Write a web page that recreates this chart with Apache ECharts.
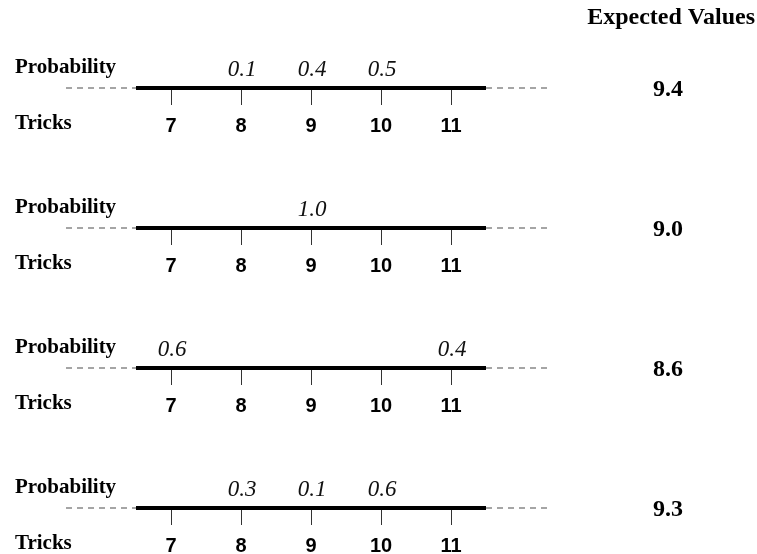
<!DOCTYPE html>
<html>
<head>
<meta charset="utf-8">
<script src="https://cdn.jsdelivr.net/npm/echarts@6/dist/echarts.min.js"></script>
<style>
html,body{margin:0;padding:0;background:#fff;}
#main{width:757px;height:554px;}
</style>
</head>
<body>
<div id="main"></div>
<script>
// data
var tricks = [7, 8, 9, 10, 11];
var probRow1 = [0, 0.1, 0.4, 0.5, 0];
var probRow2 = [0, 0, 1.0, 0, 0];
var probRow3 = [0.6, 0, 0, 0, 0.4];
var probRow4 = [0, 0.3, 0.1, 0.6, 0];
var expectedValues = [9.4, 9.0, 8.6, 9.3];

var probRows = [probRow1, probRow2, probRow3, probRow4];
var lineTop = [88, 228, 368, 508];   // pixel y of each number line
var serif = '"Liberation Serif", "DejaVu Serif", serif';
var sans = '"Liberation Sans", Arial, sans-serif';

var grids = [], xAxes = [], yAxes = [], series = [], texts = [];

function $each(arr, fn){ for (var i = 0; i < arr.length; i++) fn(i, arr[i]); }

$each(probRows, function(i, row){
	grids.push({left: 31, right: 26, top: lineTop[i] - 40, height: 40,
		containLabel: false, outerBoundsMode: 'none'});
	xAxes.push({
		gridIndex: i, type: 'value', min: 5, max: 15,
		splitLine: {show: false},
		axisLine: {show: false},
		axisTick: {show: true, length: 17, customValues: tricks,
			lineStyle: {color: '#333', width: 1}},
		axisLabel: {show: true, margin: 28, customValues: tricks,
			color: '#000', fontFamily: sans, fontWeight: 'bold', fontSize: 20}
	});
	yAxes.push({gridIndex: i, type: 'value', min: 0, max: 1, show: false});

	// solid part of the line
	series.push({
		type: 'line', xAxisIndex: i, yAxisIndex: i, clip: false, silent: true,
		showSymbol: false, data: [[6.5, 0], [11.5, 0]],
		lineStyle: {color: '#000', width: 4}
	});
	// dashed extensions
	series.push({
		type: 'line', xAxisIndex: i, yAxisIndex: i, clip: false, silent: true,
		showSymbol: false, data: [[5.5, 0], [6.5, 0]],
		lineStyle: {color: '#888', width: 1.5, type: [6, 5]}
	});
	series.push({
		type: 'line', xAxisIndex: i, yAxisIndex: i, clip: false, silent: true,
		showSymbol: false, data: [[11.5, 0], [12.4, 0]],
		lineStyle: {color: '#888', width: 1.5, type: [6, 5]}
	});
	// probabilities above the ticks
	var pts = [];
	for (var k = 0; k < tricks.length; k++) {
		if (row[k] > 0) pts.push([tricks[k], 0, row[k]]);
	}
	series.push({
		type: 'scatter', xAxisIndex: i, yAxisIndex: i, clip: false, silent: true,
		symbolSize: 0, data: pts, itemStyle: {opacity: 1},
		label: {show: true, position: [0, 0], align: 'center', verticalAlign: 'middle',
			offset: [1, -18],
			formatter: function(p){ return p.value[2].toFixed(1); },
			color: '#111', fontFamily: serif, fontStyle: 'italic', fontSize: 23}
	});
	// expected value on the right
	series.push({
		type: 'scatter', xAxisIndex: i, yAxisIndex: i, clip: false, silent: true,
		symbolSize: 0, data: [[14.1, 0, expectedValues[i]]], itemStyle: {opacity: 1},
		label: {show: true, position: [0, 0], align: 'center', verticalAlign: 'middle',
			offset: [0, 2],
			formatter: function(p){ return p.value[2].toFixed(1); },
			color: '#000', fontFamily: serif, fontWeight: 'bold', fontSize: 24}
	});

	texts.push({type: 'text', left: 15, top: lineTop[i] - 31,
		style: {text: 'Probability', fill: '#000', font: 'bold 21px ' + serif}});
	texts.push({type: 'text', left: 15, top: lineTop[i] + 25,
		style: {text: 'Tricks', fill: '#000', font: 'bold 21px ' + serif}});
});
texts.push({type: 'text', right: 2, top: 6,
	style: {text: 'Expected Values', fill: '#000', font: 'bold 24px ' + serif}});

var chart = echarts.init(document.getElementById('main'));
chart.setOption({
	animation: false,
	grid: grids,
	xAxis: xAxes,
	yAxis: yAxes,
	series: series,
	graphic: texts
});
</script>
</body>
</html>
